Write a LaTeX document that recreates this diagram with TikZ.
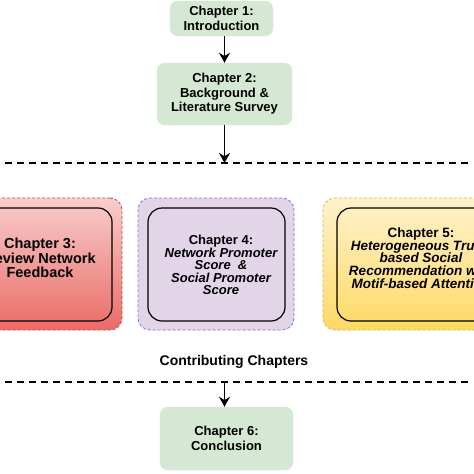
\documentclass[tikz,border=0pt]{standalone}
\usepackage{fontspec}
\setmainfont{Liberation Sans}
\usetikzlibrary{arrows.meta}
\definecolor{grn}{HTML}{D5E8D4}
\definecolor{redtop}{HTML}{F8CECC}
\definecolor{redbot}{HTML}{EA6B66}
\definecolor{redline}{HTML}{B85450}
\definecolor{yeltop}{HTML}{FFF2CC}
\definecolor{yelbot}{HTML}{FFD966}
\definecolor{yelline}{HTML}{D6B656}
\definecolor{purfill}{HTML}{E1D5E7}
\definecolor{purline}{HTML}{9673A6}
\begin{document}
\begin{tikzpicture}[x=1pt,y=-1pt,
  greenbox/.style={fill=grn, draw=grn, rounded corners=8pt, align=center,
    font=\fontsize{13}{14.5}\selectfont\bfseries, inner sep=0pt},
  outerbox/.style={rounded corners=12pt, densely dashed, line width=0.8pt, inner sep=0pt},
  innerbox/.style={draw=black, rounded corners=14pt, line width=1.2pt, inner sep=0pt},
  chtext/.style={align=center, font=\fontsize{13}{12.6}\selectfont\bfseries, inner sep=0pt},
  arr/.style={line width=1.8pt, -{Stealth[length=10pt,width=11pt]}},
  sepline/.style={line width=2.2pt, dash pattern=on 7pt off 5pt}
]
\clip (0,0) rectangle (474,474);
\fill[white] (0,0) rectangle (474,474);

% top chapters
\node[greenbox, minimum width=103pt, minimum height=35pt] (c1) at (221.5,18.5) {Chapter 1:\\Introduction};
\node[greenbox, minimum width=135pt, minimum height=62pt] (c2) at (224.5,94) {Chapter 2:\\Background \&\\Literature Survey};

% separators
\coordinate (d1l) at (5,163);
\coordinate (d1r) at (470,163);
\coordinate (d2l) at (5,382);
\coordinate (d2r) at (470,382);
\draw[sepline] (d1l) -- (d1r);
\draw[sepline] (d2l) -- (d2r);

% contributing chapters
\node[outerbox, draw=redline, top color=redtop, bottom color=redbot, minimum width=155pt, minimum height=132pt] (o3) at (44.5,264) {};
\node[innerbox, minimum width=137pt, minimum height=113pt] (i3) at (43.5,264.5) {};
\node[chtext, font=\fontsize{14.5}{14.7}\selectfont\bfseries] (t3) at (40,258) {Chapter 3:\\Review Network\\Feedback};

\node[outerbox, draw=purline, fill=purfill, minimum width=156pt, minimum height=132pt] (o4) at (216,264) {};
\node[innerbox, minimum width=137pt, minimum height=113pt] (i4) at (216.5,264.5) {};
\node[chtext] (t4) at (221,265) {Chapter 4:\\\itshape Network Promoter\\\itshape Score~~\&\\\itshape Social Promoter\\\itshape Score};

\node[outerbox, draw=yelline, top color=yeltop, bottom color=yelbot, minimum width=196pt, minimum height=132pt] (o5) at (421,264) {};
\node[innerbox, minimum width=168pt, minimum height=113pt] (i5) at (421,264.5) {};
\node[chtext, font=\fontsize{13.5}{12.8}\selectfont\bfseries] (t5) at (421,258) {Chapter 5:\\\itshape Heterogeneous Trust-\\\itshape based Social\\\itshape Recommendation with\\\itshape Motif-based Attention};

\node[chtext, font=\fontsize{14}{15}\selectfont\bfseries] (cc) at (234,362) {Contributing Chapters};

% bottom chapter
\node[greenbox, minimum width=133pt, minimum height=63pt] (c6) at (226.5,438.5) {Chapter 6:\\Conclusion};

% arrows
\draw[arr] (c2.north |- c1.south) -- (c2.north);
\draw[arr] (c2.south) -- (c2.south |- d1l);
\draw[arr] (c2.south |- d2l) -- (c2.south |- c6.north);
\end{tikzpicture}
\end{document}
